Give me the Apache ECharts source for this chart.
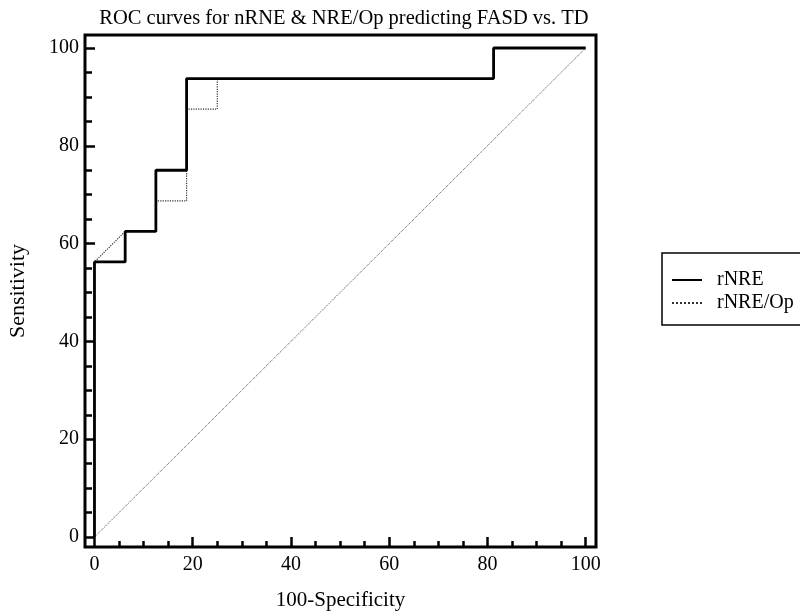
<!DOCTYPE html>
<html>
<head>
<meta charset="utf-8">
<script src="https://cdn.jsdelivr.net/npm/echarts@6/dist/echarts.min.js"></script>
<style>html,body{margin:0;padding:0;background:#fff}#c{width:800px;height:612px}</style>
</head>
<body>
<div id="c"></div>
<script>
// Data
var titleText = 'ROC curves for nRNE & NRE/Op predicting FASD vs. TD';
var xName = '100-Specificity';
var yName = 'Sensitivity';
var majorTicks = [0, 20, 40, 60, 80, 100];
var minorTicks = [5, 10, 15, 25, 30, 35, 45, 50, 55, 65, 70, 75, 85, 90, 95];
var seriesNames = ['rNRE', 'rNRE/Op'];
// ROC points: [100-Specificity, Sensitivity]
var rNRE = [[0,0],[0,56.25],[6.25,56.25],[6.25,62.5],[12.5,62.5],[12.5,75],[18.75,75],[18.75,93.75],[81.25,93.75],[81.25,100],[100,100]];
var rNREOp = [[0,0],[0,56.25],[6.25,62.5],[12.5,62.5],[12.5,68.75],[18.75,68.75],[18.75,87.5],[25,87.5],[25,93.75],[81.25,93.75],[81.25,100],[100,100]];
var diagonal = [[0,0],[100,100]];

var font = 'Liberation Serif';
var chart = echarts.init(document.getElementById('c'), null, {renderer: 'canvas'});
var xMin = -1.93, xMax = 102.1, yMin = -2.04, yMax = 102.66;
function xAxisBase(extra) {
  return Object.assign({
    type: 'value', min: xMin, max: xMax, splitLine: {show: false},
    axisLine: {show: false, onZero: false}
  }, extra);
}
function yAxisBase(extra) {
  return Object.assign({
    type: 'value', min: yMin, max: yMax, splitLine: {show: false},
    axisLine: {show: false, onZero: false}
  }, extra);
}
chart.setOption({
  animation: false,
  title: {
    text: titleText, left: 339, top: 3, textAlign: 'center',
    textStyle: {fontFamily: font, fontSize: 20.5, fontWeight: 'normal', color: '#000'}
  },
  grid: {left: 85, top: 35, width: 511, height: 512, show: true, borderColor: '#000', borderWidth: 3,
    backgroundColor: 'transparent', containLabel: false, outerBoundsMode: 'none'},
  legend: {
    orient: 'vertical', left: 662, top: 253,
    padding: [17, 60, 12, 9], itemGap: 3, itemWidth: 30, itemHeight: 20,
    borderColor: '#000', borderWidth: 1.5,
    data: seriesNames,
    itemStyle: {opacity: 0},
    textStyle: {fontFamily: font, fontSize: 20, color: '#000', padding: [0, 0, 0, 10]}
  },
  xAxis: [
    xAxisBase({position: 'bottom', name: xName, nameLocation: 'middle', nameGap: 43,
      nameTextStyle: {fontFamily: font, fontSize: 21, color: '#000'},
      axisTick: {inside: true, length: 10, lineStyle: {color: '#000', width: 2.5}, customValues: majorTicks},
      axisLabel: {customValues: majorTicks, margin: 8, fontFamily: font, fontSize: 20, color: '#000'}}),
    xAxisBase({position: 'bottom',
      axisTick: {inside: true, length: 6, lineStyle: {color: '#000', width: 2.5}, customValues: minorTicks},
      axisLabel: {show: false}})
  ],
  yAxis: [
    yAxisBase({position: 'left',
      name: yName, nameLocation: 'middle', nameGap: 56, nameRotate: 90,
      nameTextStyle: {fontFamily: font, fontSize: 22, color: '#000'},
      axisTick: {inside: true, length: 10, lineStyle: {color: '#000', width: 2.5}, customValues: majorTicks},
      axisLabel: {customValues: majorTicks, margin: 6, fontFamily: font, fontSize: 20, color: '#000'}}),
    yAxisBase({position: 'left',
      axisTick: {inside: true, length: 7, lineStyle: {color: '#000', width: 2.5}, customValues: minorTicks},
      axisLabel: {show: false}})
  ],
  series: [
    {name: 'diag', type: 'line', data: diagonal, symbol: 'none', silent: true,
      lineStyle: {color: '#444', width: 1, type: 'dotted'}},
    {name: seriesNames[1], type: 'line', data: rNREOp, symbol: 'none',
      itemStyle: {color: '#333'},
      lineStyle: {color: '#333', width: 1.2, type: 'dotted'}},
    {name: seriesNames[0], type: 'line', data: rNRE, symbol: 'none',
      itemStyle: {color: '#000'},
      lineStyle: {color: '#000', width: 2.8}}
  ]
});
</script>
</body>
</html>
